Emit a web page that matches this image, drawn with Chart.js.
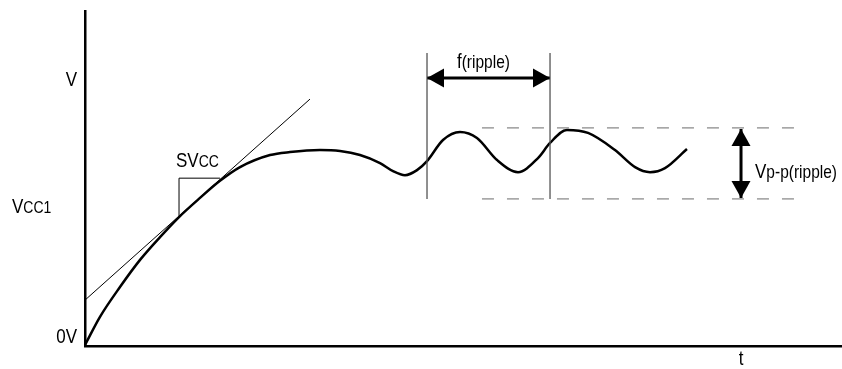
<!DOCTYPE html>
<html>
<head>
<meta charset="utf-8">
<script src="https://cdn.jsdelivr.net/npm/chart.js@4.4.1/dist/chart.umd.min.js"></script>
<style>
  html, body { margin: 0; padding: 0; background: #fff; }
  canvas { display: block; }
</style>
</head>
<body>
<canvas id="myChart" width="842" height="369"></canvas>
<script>
// 시간축(t) 0~100, 전압축(V) 0~10 으로 읽은 값
const curveT = [0, 1.98, 4.62, 7.27, 9.91, 12.42, 15.19, 17.83, 20.48, 24.44, 27.08, 31.04, 33.69, 36.33, 38.97, 40.69, 42.27, 43.86, 45.18, 47.29, 49.54, 51.78, 54.43, 57.2, 59.84, 61.43, 63.67, 66.45, 70.01, 72.66, 74.64, 76.62, 79.52];
const curveV = [0.03, 0.87, 1.76, 2.57, 3.25, 3.85, 4.42, 4.93, 5.34, 5.70, 5.79, 5.85, 5.82, 5.70, 5.46, 5.22, 5.10, 5.25, 5.52, 6.15, 6.39, 6.21, 5.55, 5.19, 5.61, 6.06, 6.45, 6.36, 5.85, 5.34, 5.19, 5.31, 5.88];

const tangentT = [0, 29.72];
const tangentV = [1.37, 7.37];

const slopeT = [12.42, 12.42, 17.83];   // SVcc 삼각형
const slopeV = [3.85, 5.01, 5.01];

const rippleHigh = 6.51;
const rippleLow = 4.39;
const dashFrom = 52.44;
const dashTo = 94.45;

const periodT = [45.18, 61.43];   // f(ripple) 구간
const periodTop = 8.75;
const periodArrowV = 8.0;

const ppArrowT = 86.66;
const ppArrowV = [6.48, 4.42];

const toPts = (xs, ys) => xs.map((x, i) => ({ x: x, y: ys[i] }));

// 양 끝 화살촉
const arrowPlugin = {
    id: 'arrowHeads',
    afterDatasetsDraw(chart) {
        const ctx = chart.ctx;
        chart.data.datasets.forEach((ds, i) => {
            if (!ds.arrowHeads) return;
            const pts = chart.getDatasetMeta(i).data;
            const ends = [[pts[0], pts[1]], [pts[pts.length - 1], pts[pts.length - 2]]];
            ends.forEach(([tip, from]) => {
                const a = Math.atan2(tip.y - from.y, tip.x - from.x);
                const len = 17, half = 9.5;
                ctx.save();
                ctx.translate(tip.x, tip.y);
                ctx.rotate(a);
                ctx.beginPath();
                ctx.moveTo(0, 0);
                ctx.lineTo(-len, -half);
                ctx.lineTo(-len, half);
                ctx.closePath();
                ctx.fillStyle = '#000';
                ctx.fill();
                ctx.restore();
            });
        });
    }
};

// 라벨 (큰 글자 + 작은 글자)
function drawRich(ctx, parts, x, y, align) {
    let total = 0;
    parts.forEach(p => {
        ctx.font = p[1] + 'px "Liberation Sans", Arial, sans-serif';
        total += ctx.measureText(p[0]).width;
    });
    let cx = align === 'right' ? x - total : (align === 'center' ? x - total / 2 : x);
    parts.forEach(p => {
        ctx.font = p[1] + 'px "Liberation Sans", Arial, sans-serif';
        ctx.save();
        ctx.translate(cx, y);
        ctx.scale(1, 1.15);
        ctx.fillStyle = '#000';
        ctx.textBaseline = 'alphabetic';
        ctx.fillText(p[0], 0, 0);
        ctx.restore();
        cx += ctx.measureText(p[0]).width;
    });
}

const labelPlugin = {
    id: 'labels',
    afterDraw(chart) {
        const ctx = chart.ctx;
        const xs = chart.scales.x, ys = chart.scales.y;
        const left = chart.chartArea.left, bottom = chart.chartArea.bottom;
        drawRich(ctx, [['V', 17]], left - 8, ys.getPixelForValue(7.76), 'right');
        drawRich(ctx, [['V', 17], ['CC1', 14]], 12, ys.getPixelForValue(3.97), 'left');
        drawRich(ctx, [['0V', 17]], left - 8, ys.getPixelForValue(0.09), 'right');
        drawRich(ctx, [['t', 17]], xs.getPixelForValue(86.66), bottom + 19, 'center');
        drawRich(ctx, [['SV', 17], ['CC', 14]], xs.getPixelForValue(12.02), ys.getPixelForValue(5.34), 'left');
        drawRich(ctx, [['f', 17], ['(ripple)', 15.5]], xs.getPixelForValue(49.14), ys.getPixelForValue(8.30), 'left');
        drawRich(ctx, [['V', 17], ['p-p(ripple)', 15.5]], xs.getPixelForValue(88.51), ys.getPixelForValue(5.01), 'left');
    }
};

const cht = document.getElementById('myChart');

const chart = new Chart(cht, {
    type: 'scatter',
    data: {
        datasets: [
            {
                data: toPts(tangentT, tangentV),
                borderColor: '#000', borderWidth: 1
            },
            {
                data: toPts(slopeT, slopeV),
                borderColor: '#000', borderWidth: 1
            },
            {
                data: toPts([dashFrom, dashTo], [rippleHigh, rippleHigh]),
                borderColor: '#6b6b6b', borderWidth: 1, borderDash: [12, 13]
            },
            {
                data: toPts([dashFrom, dashTo], [rippleLow, rippleLow]),
                borderColor: '#6b6b6b', borderWidth: 1, borderDash: [12, 13]
            },
            {
                data: toPts([periodT[0], periodT[0]], [periodTop, rippleLow]),
                borderColor: '#555', borderWidth: 1.3
            },
            {
                data: toPts([periodT[1], periodT[1]], [periodTop, rippleLow]),
                borderColor: '#555', borderWidth: 1.3
            },
            {
                data: toPts(curveT, curveV),
                borderColor: '#000', borderWidth: 2.5,
                cubicInterpolationMode: 'monotone'
            },
            {
                data: toPts(periodT, [periodArrowV, periodArrowV]),
                borderColor: '#000', borderWidth: 3, arrowHeads: true
            },
            {
                data: toPts([ppArrowT, ppArrowT], ppArrowV),
                borderColor: '#000', borderWidth: 3, arrowHeads: true
            }
        ]
    },
    options: {
        responsive: false,
        animation: false,
        showLine: true,
        elements: {
            point: { radius: 0, hoverRadius: 0 },
            line: { tension: 0 }
        },
        layout: {
            padding: { left: 85, right: 0, top: 11, bottom: 23 }
        },
        scales: {
            x: {
                type: 'linear', min: 0, max: 100,
                grid: { display: false, drawTicks: false },
                ticks: { display: false },
                border: { display: true, color: '#000', width: 2.5 }
            },
            y: {
                type: 'linear', min: 0, max: 10,
                grid: { display: false, drawTicks: false },
                ticks: { display: false },
                border: { display: true, color: '#000', width: 2.5 }
            }
        },
        plugins: {
            legend: { display: false },
            tooltip: { enabled: false }
        }
    },
    plugins: [arrowPlugin, labelPlugin]
});
</script>
</body>
</html>
